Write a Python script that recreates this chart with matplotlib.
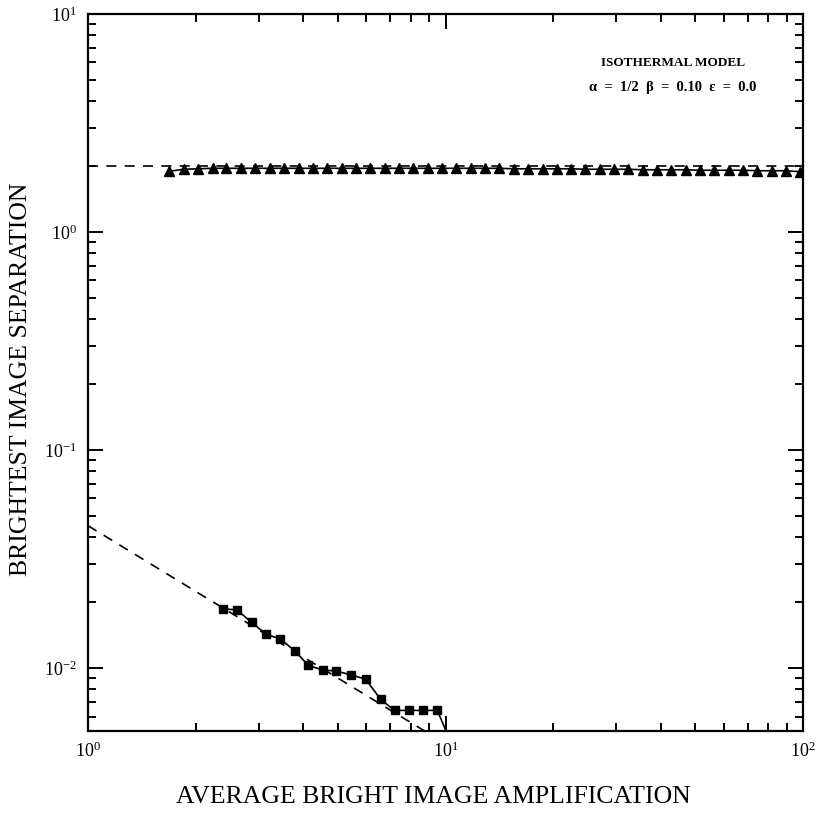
"""Brightest image separation vs. average bright image amplification (isothermal model)."""

import matplotlib

matplotlib.use("Agg")
import matplotlib.pyplot as plt
from matplotlib.ticker import LogLocator, NullFormatter

# triangles: wide-separation branch
tri_x = [1.69, 1.85, 2.03, 2.23, 2.44, 2.68, 2.94, 3.23, 3.54, 3.88,
         4.26, 4.67, 5.12, 5.61, 6.15, 6.76, 7.41, 8.13, 8.91, 9.77,
         10.7, 11.8, 12.9, 14.1, 15.5, 17.0, 18.7, 20.5, 22.4, 24.6,
         27.0, 29.6, 32.4, 35.6, 39.0, 42.8, 47.0, 51.5, 56.5, 61.9,
         67.9, 74.5, 81.7, 89.5, 98.2]
tri_y = [1.90, 1.94, 1.95, 1.96, 1.96, 1.96, 1.96, 1.96, 1.96, 1.96,
         1.96, 1.96, 1.96, 1.96, 1.96, 1.96, 1.96, 1.96, 1.96, 1.96,
         1.96, 1.96, 1.96, 1.96, 1.95, 1.95, 1.95, 1.95, 1.95, 1.94,
         1.94, 1.94, 1.94, 1.93, 1.93, 1.93, 1.93, 1.92, 1.92, 1.92,
         1.92, 1.91, 1.91, 1.91, 1.89]

# squares: close-pair branch
sq_x = [2.38, 2.61, 2.87, 3.15, 3.45, 3.79, 4.13, 4.53, 4.95, 5.45,
        5.98, 6.58, 7.20, 7.89, 8.66, 9.48, 10.4]
sq_y = [0.0187, 0.0185, 0.0162, 0.0143, 0.0136, 0.0120, 0.0103, 0.0098,
        0.0097, 0.0093, 0.0089, 0.0072, 0.0064, 0.0064, 0.0064, 0.0064,
        0.0045]

# dashed reference curves
ref_hi_x = [1.0, 100.0]
ref_hi_y = [2.0, 2.0]
ref_lo_x = [1.0, 10.0]
ref_lo_y = [0.045, 0.0045]

x_lim = (1.0, 100.0)
y_lim = (5.15e-3, 10.0)

title_lines = ["ISOTHERMAL MODEL", "α  =  1/2  β  =  0.10  ε  =  0.0"]
x_label = "AVERAGE BRIGHT IMAGE AMPLIFICATION"
y_label = "BRIGHTEST IMAGE SEPARATION"

plt.rcParams["font.family"] = ["Liberation Serif", "DejaVu Serif"]
plt.rcParams["mathtext.fontset"] = "stix"

fig = plt.figure(figsize=(8.17, 8.17), dpi=100)
ax = fig.add_axes([0.1077, 0.1053, 0.8752, 0.8776])
ax.set_xscale("log")
ax.set_yscale("log")
ax.set_xlim(*x_lim)
ax.set_ylim(*y_lim)

dash = dict(color="black", lw=1.2, ls=(0, (6, 5)))
ax.plot(ref_hi_x, ref_hi_y, **dash)
ax.plot(ref_lo_x, ref_lo_y, **dash)

ax.plot(tri_x, tri_y, color="black", lw=1.2, marker="^", ms=7,
        markerfacecolor="black", markeredgecolor="black")
ax.plot(sq_x, sq_y, color="black", lw=1.2, marker="s", ms=6.2,
        markerfacecolor="black", markeredgecolor="black")

ax.text(0.818, 0.932, title_lines[0], transform=ax.transAxes, ha="center",
        va="center", fontsize=9.5, fontweight="bold")
ax.text(0.818, 0.898, title_lines[1], transform=ax.transAxes, ha="center",
        va="center", fontsize=10.5, fontweight="bold")

for side in ax.spines.values():
    side.set_linewidth(1.6)
ax.xaxis.set_major_locator(LogLocator(base=10))
ax.yaxis.set_major_locator(LogLocator(base=10))
ax.xaxis.set_minor_locator(LogLocator(base=10, subs=range(2, 10)))
ax.yaxis.set_minor_locator(LogLocator(base=10, subs=range(2, 10)))
ax.xaxis.set_minor_formatter(NullFormatter())
ax.yaxis.set_minor_formatter(NullFormatter())
ax.tick_params(which="both", direction="in", top=True, right=True,
               labelsize=13, width=1.4)
ax.tick_params(which="major", length=11, pad=8)
ax.tick_params(which="minor", length=6)

ax.set_xlabel(x_label, fontsize=18.5)
ax.set_ylabel(y_label, fontsize=18.5)
ax.xaxis.set_label_coords(0.4825, -0.077)
ax.yaxis.set_label_coords(-0.078, 0.49)

fig.savefig("out.png", dpi=100)
plt.close(fig)
